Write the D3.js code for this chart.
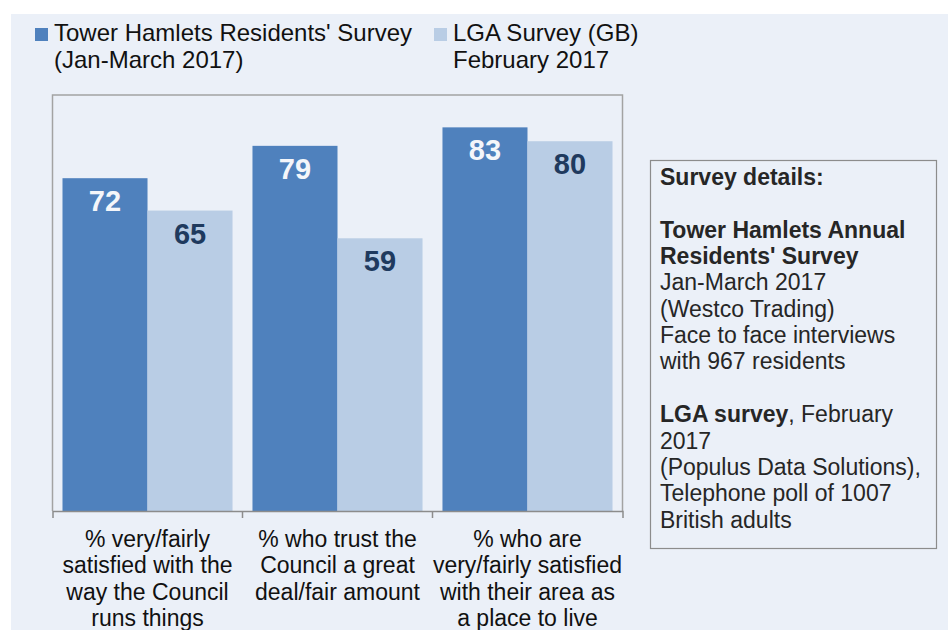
<!DOCTYPE html>
<html>
<head>
<meta charset="utf-8">
<script src="https://cdn.jsdelivr.net/npm/d3@7"></script>
<style>
  html, body { margin: 0; padding: 0; background: #ffffff; }
  svg { display: block; font-family: "Liberation Sans", Arial, sans-serif; }
</style>
</head>
<body>
<svg id="chart" width="948" height="630"></svg>
<script>
// Survey comparison: Tower Hamlets residents vs LGA national poll
const categories = ["satisfied", "trust", "area"];
const categoryLines = [
  ["% very/fairly", "satisfied with the", "way the Council", "runs things"],
  ["% who trust the", "Council a great", "deal/fair amount"],
  ["% who are", "very/fairly satisfied", "with their area as", "a place to live"]
];
const seriesKeys = ["towerHamlets", "lga"];
const seriesLegend = [
  ["Tower Hamlets Residents' Survey", "(Jan-March 2017)"],
  ["LGA Survey (GB)", "February 2017"]
];
const towerHamlets = [72, 79, 83];
const lga = [65, 59, 80];
const yDomain = [0, 90];

const seriesColors = ["#4f81bd", "#b9cde5"];
const labelColors = ["#f4f6fa", "#1f3a5e"];

const svg = d3.select("#chart");

// panel background
svg.append("rect")
  .attr("x", 11).attr("y", 14).attr("width", 937).attr("height", 616)
  .attr("fill", "#ebf0f8");

const plot = { left: 52.5, right: 622.5, top: 95, bottom: 511 };

const x0 = d3.scaleBand()
  .domain(categories)
  .range([plot.left, plot.right])
  .paddingInner(0.105)
  .paddingOuter(0.0526);

const x1 = d3.scaleBand()
  .domain(seriesKeys)
  .range([0, x0.bandwidth()]);

const y = d3.scaleLinear().domain(yDomain).range([plot.bottom, plot.top]);

const rows = categories.map((c, i) => ({
  cat: c,
  values: [
    { key: "towerHamlets", value: towerHamlets[i] },
    { key: "lga", value: lga[i] }
  ]
}));

// plot frame (top, left, right)
svg.append("path")
  .attr("d", `M${plot.left},${plot.bottom} V${plot.top} H${plot.right} V${plot.bottom}`)
  .attr("fill", "none")
  .attr("stroke", "#a3a3a3")
  .attr("stroke-width", 1.5);

// bars
const groups = svg.append("g").selectAll("g")
  .data(rows).join("g")
  .attr("transform", d => `translate(${x0(d.cat)},0)`);

groups.selectAll("rect")
  .data(d => d.values).join("rect")
  .attr("x", d => x1(d.key))
  .attr("y", d => y(d.value))
  .attr("width", x1.bandwidth())
  .attr("height", d => y(0) - y(d.value))
  .attr("fill", (d, i) => seriesColors[i]);

groups.selectAll("text.value")
  .data(d => d.values).join("text")
  .attr("class", "value")
  .attr("x", d => x1(d.key) + x1.bandwidth() / 2)
  .attr("y", d => y(d.value) + 33)
  .attr("text-anchor", "middle")
  .attr("font-size", 29)
  .attr("font-weight", "bold")
  .attr("fill", (d, i) => labelColors[i])
  .text(d => d.value);

// category axis
const axis = d3.axisBottom(x0).tickValues([]).tickSizeOuter(7);
const axisG = svg.append("g")
  .attr("transform", `translate(0,${plot.bottom})`)
  .call(axis);
axisG.select(".domain").attr("stroke", "#8c8c8c").attr("stroke-width", 1.5);

const boundaries = categories.slice(1).map(c => x0(c) - x0.step() * x0.paddingInner() / 2);
axisG.selectAll("line.sep")
  .data(boundaries).join("line")
  .attr("class", "sep")
  .attr("x1", d => d).attr("x2", d => d)
  .attr("y1", 0).attr("y2", 7)
  .attr("stroke", "#8c8c8c").attr("stroke-width", 1.5);

const catLabels = svg.append("g").selectAll("text")
  .data(categories).join("text")
  .attr("text-anchor", "middle")
  .attr("font-size", 23)
  .attr("fill", "#111");
catLabels.each(function(c, i) {
  d3.select(this).selectAll("tspan")
    .data(categoryLines[i]).join("tspan")
    .attr("x", x0(c) + x0.bandwidth() / 2)
    .attr("y", (d, j) => 547 + j * 26.3)
    .text(d => d);
});

// legend
const legendX = [35, 434];
const legend = svg.append("g").selectAll("g")
  .data(seriesLegend).join("g");
legend.append("rect")
  .attr("x", (d, i) => legendX[i])
  .attr("y", 28)
  .attr("width", 13).attr("height", 13)
  .attr("fill", (d, i) => seriesColors[i]);
legend.append("text")
  .attr("font-size", 24)
  .attr("fill", "#111")
  .each(function(lines, i) {
    d3.select(this).selectAll("tspan")
      .data(lines).join("tspan")
      .attr("x", legendX[i] + 19)
      .attr("y", (d, j) => 41 + j * 27)
      .text(d => d);
  });

// survey details box
svg.append("rect")
  .attr("x", 650.5).attr("y", 160.5).attr("width", 286).attr("height", 388)
  .attr("fill", "none").attr("stroke", "#8c8c8c").attr("stroke-width", 1.2);

const detailLines = [
  [{ t: "Survey details:", b: true }],
  [],
  [{ t: "Tower Hamlets Annual", b: true }],
  [{ t: "Residents' Survey", b: true }],
  [{ t: "Jan-March 2017" }],
  [{ t: "(Westco Trading)" }],
  [{ t: "Face to face interviews" }],
  [{ t: "with 967 residents" }],
  [],
  [{ t: "LGA survey", b: true }, { t: ", February" }],
  [{ t: "2017" }],
  [{ t: "(Populus Data Solutions)," }],
  [{ t: "Telephone poll of 1007" }],
  [{ t: "British adults" }]
];
const details = svg.append("g")
  .attr("font-size", 23)
  .attr("fill", "#262626");
detailLines.forEach((segs, i) => {
  if (!segs.length) return;
  const t = details.append("text")
    .attr("x", 660)
    .attr("y", 185 + i * 26.35);
  t.selectAll("tspan").data(segs).join("tspan")
    .attr("font-weight", d => d.b ? "bold" : null)
    .text(d => d.t);
});
</script>
</body>
</html>
